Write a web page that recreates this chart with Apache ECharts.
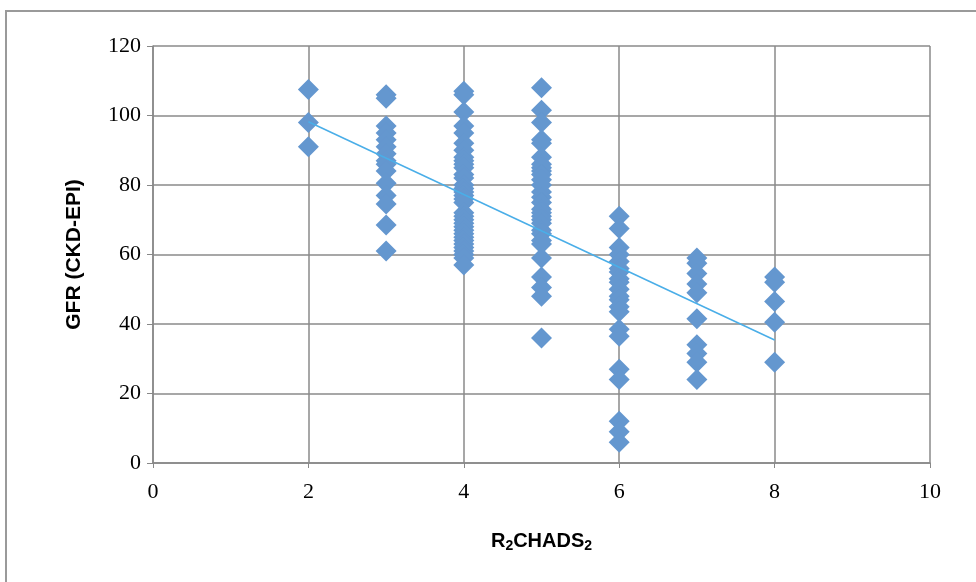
<!DOCTYPE html>
<html><head><meta charset="utf-8">
<script src="https://cdn.jsdelivr.net/npm/echarts@6/dist/echarts.min.js"></script>
<style>html,body{margin:0;padding:0;background:#fff}#c{width:976px;height:582px}</style>
</head><body><div id="c"></div>
<script>
// Data
const scoreCol2 = [107.5, 98, 91];
const scoreCol3 = [106, 105, 97, 95, 93, 91, 89, 87, 86, 84, 80.5, 77, 74.5, 68.5, 61];
const scoreCol4 = [107, 106, 101, 97, 95, 92, 90, 88, 87, 86, 85, 83, 82, 80, 79, 78, 77, 76, 75, 72, 71, 70, 69, 68, 67, 66, 65, 64, 63, 62, 61, 60, 59, 57];
const scoreCol5 = [108, 101.5, 98, 93, 92, 88, 86, 85, 84, 83, 81.5, 80, 78, 76.5, 75, 73, 72, 71, 70, 69, 67, 66, 64, 63, 59, 53.5, 50.5, 48, 36];
const scoreCol6 = [71, 67.5, 62, 60, 58, 56, 55, 53, 52, 50, 48, 47, 45, 43.5, 38.5, 36.5, 27, 24, 12, 9, 6];
const scoreCol7 = [59, 57.5, 54.5, 51.5, 49, 41.5, 34, 31.5, 29, 24];
const scoreCol8 = [53.5, 52, 46.5, 40.5, 29];
const xColumns = [2, 3, 4, 5, 6, 7, 8];
const trendX = [2, 8];
const trendY = [98.2, 35.4];

const columns = [scoreCol2, scoreCol3, scoreCol4, scoreCol5, scoreCol6, scoreCol7, scoreCol8];
const points = [];
columns.forEach((col, i) => col.forEach(v => points.push([xColumns[i], v])));
const trend = trendX.map((x, i) => [x, trendY[i]]);

const chart = echarts.init(document.getElementById('c'));
const serif = '"Liberation Serif", "DejaVu Serif", serif';
const sans = '"Liberation Sans Narrow", "Liberation Sans", sans-serif';
chart.setOption({
  animation: false,
  graphic: [{
    type: 'rect', shape: {x: 6, y: 11, width: 980, height: 590},
    style: {fill: 'none', stroke: '#9a9a9a', lineWidth: 2}, silent: true, z: -1
  }],
  grid: {left: 153, right: 46, top: 46, bottom: 119},
  xAxis: {
    type: 'value', min: 0, max: 10, interval: 2,
    axisLine: {show: true, lineStyle: {color: '#888', width: 1.5}},
    axisTick: {show: true, length: 5, lineStyle: {color: '#888'}},
    axisLabel: {color: '#000', fontFamily: serif, fontSize: 22, margin: 18},
    splitLine: {show: true, lineStyle: {color: '#8a8a8a', width: 1.5}},
    name: '{n|R}{s|2}{n|CHADS}{s|2}', nameLocation: 'middle', nameGap: 66,
    nameTextStyle: {rich: {
      n: {fontFamily: sans, fontWeight: 'bold', fontSize: 20, color: '#000'},
      s: {fontFamily: sans, fontWeight: 'bold', fontSize: 14, color: '#000', padding: [10, 0, 0, 0]}
    }}
  },
  yAxis: {
    type: 'value', min: 0, max: 120, interval: 20,
    axisLine: {show: true, lineStyle: {color: '#888', width: 1.5}},
    axisTick: {show: true, length: 6, lineStyle: {color: '#888'}},
    axisLabel: {color: '#000', fontFamily: serif, fontSize: 22, margin: 12},
    splitLine: {show: true, lineStyle: {color: '#8a8a8a', width: 1.5}},
    name: 'GFR (CKD-EPI)', nameLocation: 'middle', nameGap: 68,
    nameTextStyle: {fontFamily: sans, fontWeight: 'bold', fontSize: 21, color: '#000'}
  },
  series: [{
    type: 'scatter', data: points, symbol: 'diamond', symbolSize: 21,
    itemStyle: {color: '#6497cf', opacity: 1}
  }, {
    type: 'line', data: trend, symbol: 'none',
    lineStyle: {color: '#4aaee8', width: 1.5}, z: 3
  }]
});
</script></body></html>
